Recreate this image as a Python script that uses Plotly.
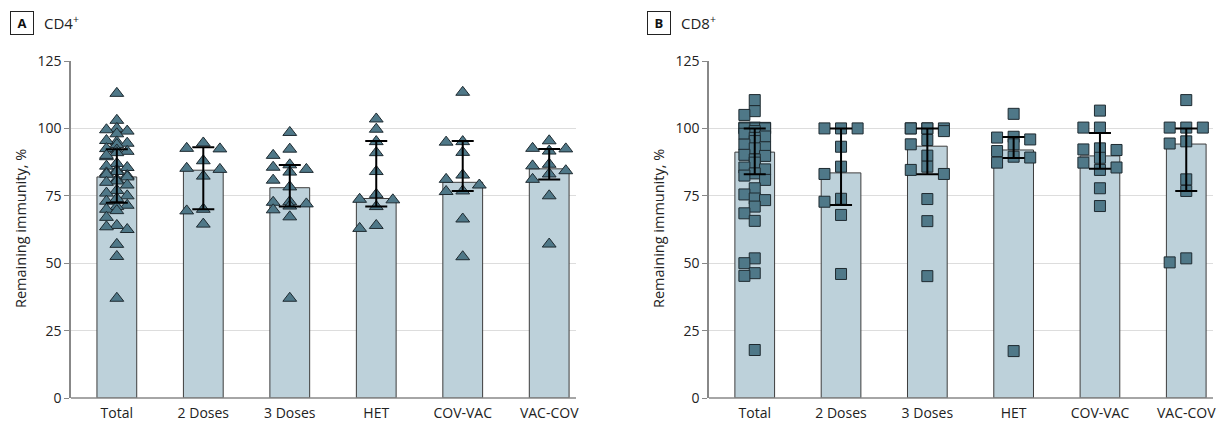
import plotly.graph_objects as go

W, H = 1222, 424

categories = ["Total", "2 Doses", "3 Doses", "HET", "COV-VAC", "VAC-COV"]
y_ticks = [0, 25, 50, 75, 100, 125]

# Panel A (CD4+) individual values
a_total = [113, 103, 100, 99.5, 99, 98, 95, 94.5, 94, 95.5, 92, 91.5, 91, 92.5, 89.5, 90,
           87, 86, 85.5, 84.5, 84, 83.5, 82.5, 83, 82, 81, 80.5, 80, 79, 77, 76, 75, 73.5,
           73, 74, 71.5, 71, 70, 69.5, 67, 64, 63.5, 62.5, 57, 52.5, 37]
a_2doses = [94.6, 92.6, 92.4, 88, 85.2, 84.8, 82.3, 70, 69.4, 64.5]
a_3doses = [98.5, 92.3, 90, 86.5, 85.6, 84.8, 83.8, 80.8, 78.3, 72.8, 72.6, 72, 71.2, 69.8, 67.2, 37]
a_het = [103.5, 99.7, 95.1, 91, 84, 75.5, 73.7, 73.5, 71, 64, 62.9]
a_covvac = [113.4, 95.1, 94.9, 91.1, 82.7, 81.1, 79, 76.8, 76.6, 66.4, 52.4]
a_vaccov = [95.4, 92.6, 92.4, 91.6, 86.7, 86.1, 84.3, 83.1, 81.1, 75, 57.1]
a_bar = [82, 84.5, 78, 74, 80, 85]
a_hi = [92.3, 93, 86.4, 95.3, 95.3, 92.4]
a_lo = [72.4, 70, 71, 71, 76.8, 81]

# Panel B (CD8+) individual values
b_total = [110.5, 106.4, 105, 100.3, 100.3, 100.2, 100, 100, 100, 99, 98, 97, 96.5, 95.3, 94,
           93, 92.6, 90.2, 89.8, 88.5, 87.3, 85.5, 84.8, 83.3, 82.5, 80.9, 77.8, 75.5, 74,
           73.4, 71, 68.5, 65.7, 51.8, 50, 46.3, 45.3, 17.8]
b_2doses = [100, 100, 100, 93.2, 85.8, 83.1, 73.9, 72.8, 67.9, 46]
b_3doses = [100, 100, 100, 100, 100, 99, 95.7, 94.1, 89.9, 85.8, 84.6, 83.1, 73.8, 65.6, 45.2]
b_het = [105.4, 96.9, 96.6, 95.9, 94.1, 91.6, 89.5, 89.2, 87.3, 17.4]
b_covvac = [106.6, 100.3, 100.3, 92.6, 92.2, 92, 89.1, 87.3, 85.5, 84.6, 77.8, 71.2]
b_vaccov = [110.5, 100.3, 100.3, 100.3, 95.2, 94.4, 81.1, 76.8, 51.8, 50.3]
b_bar = [91.2, 83.5, 93.4, 92, 89.8, 94.2]
b_hi = [100, 100, 100, 96.8, 98.3, 100]
b_lo = [83, 71.6, 83, 89, 85, 76.8]

a_groups = [a_total, a_2doses, a_3doses, a_het, a_covvac, a_vaccov]
b_groups = [b_total, b_2doses, b_3doses, b_het, b_covvac, b_vaccov]

# ---------- layout geometry ----------
X_RANGE = [-0.53, 5.31]
Y_RANGE = [0, 125]
y_dom = [(H - 398) / H, (H - 61) / H]
xa_dom = [71 / W, 576 / W]
xb_dom = [709 / W, 1213 / W]
px_x = (576 - 71) / (X_RANGE[1] - X_RANGE[0])
px_y = (398 - 61) / (Y_RANGE[1] - Y_RANGE[0])

FONT = "Open Sans, Lato, Noto Sans, sans-serif"
BAR_FILL = "#bdd1da"
BAR_LINE = "#3d3d3d"
MK_FILL = "#4f7888"
MK_LINE = "#1e2a30"


def swarm(vals, dense):
    step = 0.024 if dense else 0.096
    w = 9 if dense else 11
    h = 8 if dense else 10
    maxk = 8 if dense else 2
    cands = [0.0]
    for k in range(1, maxk + 1):
        cands += [-k * step, k * step]
    placed = []
    order = sorted(range(len(vals)), key=lambda i: -vals[i])
    res = [0.0] * len(vals)
    for i in order:
        v = vals[i]
        best, best_score = None, None
        for c in cands:
            n = sum(1 for (o, pv) in placed
                    if abs((c - o) * px_x) < w and abs((v - pv) * px_y) < h)
            score = (n, abs(c))
            if best_score is None or score < best_score:
                best, best_score = c, score
        placed.append((best, v))
        res[i] = best
    return res


fig = go.Figure()


def add_panel(groups, bars, hi, lo, xa, ya, symbol, msize):
    xs = list(range(len(categories)))
    fig.add_trace(go.Bar(
        x=xs, y=bars, width=0.46, xaxis=xa, yaxis=ya,
        marker=dict(color=BAR_FILL, line=dict(color=BAR_LINE, width=1)),
        showlegend=False, hoverinfo="skip"))
    px, py = [], []
    for gi, vals in enumerate(groups):
        offs = swarm(vals, len(vals) > 20)
        px += [gi + o for o in offs]
        py += vals
    fig.add_trace(go.Scatter(
        x=px, y=py, mode="markers", xaxis=xa, yaxis=ya,
        marker=dict(symbol=symbol, size=msize, color=MK_FILL,
                    line=dict(color=MK_LINE, width=1)),
        showlegend=False))
    fig.add_trace(go.Scatter(
        x=xs, y=bars, mode="markers", xaxis=xa, yaxis=ya,
        marker=dict(size=0.1, color="rgba(0,0,0,0)"),
        error_y=dict(type="data", symmetric=False,
                     array=[h_ - b for h_, b in zip(hi, bars)],
                     arrayminus=[b - l for l, b in zip(lo, bars)],
                     color="#000000", thickness=2, width=11),
        showlegend=False, hoverinfo="skip"))


add_panel(a_groups, a_bar, a_hi, a_lo, "x", "y", "triangle-up", 12)
add_panel(b_groups, b_bar, b_hi, b_lo, "x2", "y2", "square", 11)

xaxis_common = dict(range=X_RANGE, tickvals=list(range(len(categories))), ticktext=categories,
                    showgrid=False, zeroline=False, showline=False, ticks="",
                    automargin=False, ticklabelstandoff=5,
                    tickfont=dict(family=FONT, size=14, color="#222"), fixedrange=True)
yaxis_common = dict(range=Y_RANGE, tickvals=y_ticks, showgrid=True, gridcolor="#dddddd",
                    gridwidth=1, zeroline=False, showline=True, linecolor="#888888",
                    linewidth=1.5, ticks="outside", ticklen=5, tickcolor="#888888",
                    automargin=False,
                    tickfont=dict(family=FONT, size=14, color="#222"), fixedrange=True)

fig.update_layout(
    width=W, height=H, margin=dict(l=0, r=0, t=0, b=0, autoexpand=False),
    paper_bgcolor="white", plot_bgcolor="white",
    xaxis=dict(domain=xa_dom, anchor="y", **xaxis_common),
    yaxis=dict(domain=y_dom, anchor="x", **yaxis_common),
    xaxis2=dict(domain=xb_dom, anchor="y2", **xaxis_common),
    yaxis2=dict(domain=y_dom, anchor="x2", **yaxis_common),
    barmode="overlay",
    font=dict(family=FONT),
)

# bottom axis lines
for xd in (xa_dom, xb_dom):
    fig.add_shape(type="line", xref="paper", yref="paper", x0=xd[0], x1=xd[1],
                  y0=y_dom[0], y1=y_dom[0], line=dict(color="#888888", width=1.5))


def px2paper(x, y):
    return x / W, 1 - y / H


for letter, title, bx, tx in (("A", "CD4<sup>+</sup>", 22, 42),
                              ("B", "CD8<sup>+</sup>", 659, 679)):
    x0, y0 = px2paper(bx, 23)
    fig.add_annotation(x=x0, y=y0, xref="paper", yref="paper", text="<b>%s</b>" % letter,
                       showarrow=False, font=dict(family=FONT, size=13, color="#111"),
                       bordercolor="#222", borderwidth=1, borderpad=2,
                       width=18, height=18, xanchor="center", yanchor="middle")
    x1, y1 = px2paper(tx, 23)
    fig.add_annotation(x=x1, y=y1, xref="paper", yref="paper", text=title,
                       showarrow=False, font=dict(family=FONT, size=15, color="#222"),
                       xanchor="left", yanchor="middle")

for ax_x in (20, 658):
    x2, y2 = px2paper(ax_x, 229)
    fig.add_annotation(x=x2, y=y2, xref="paper", yref="paper",
                       text="Remaining immunity, %", textangle=-90, showarrow=False,
                       font=dict(family=FONT, size=14.5, color="#222"),
                       xanchor="center", yanchor="middle")

fig.write_html("out.html", post_script="document.body.style.margin='0';",
               config={"displayModeBar": False})
